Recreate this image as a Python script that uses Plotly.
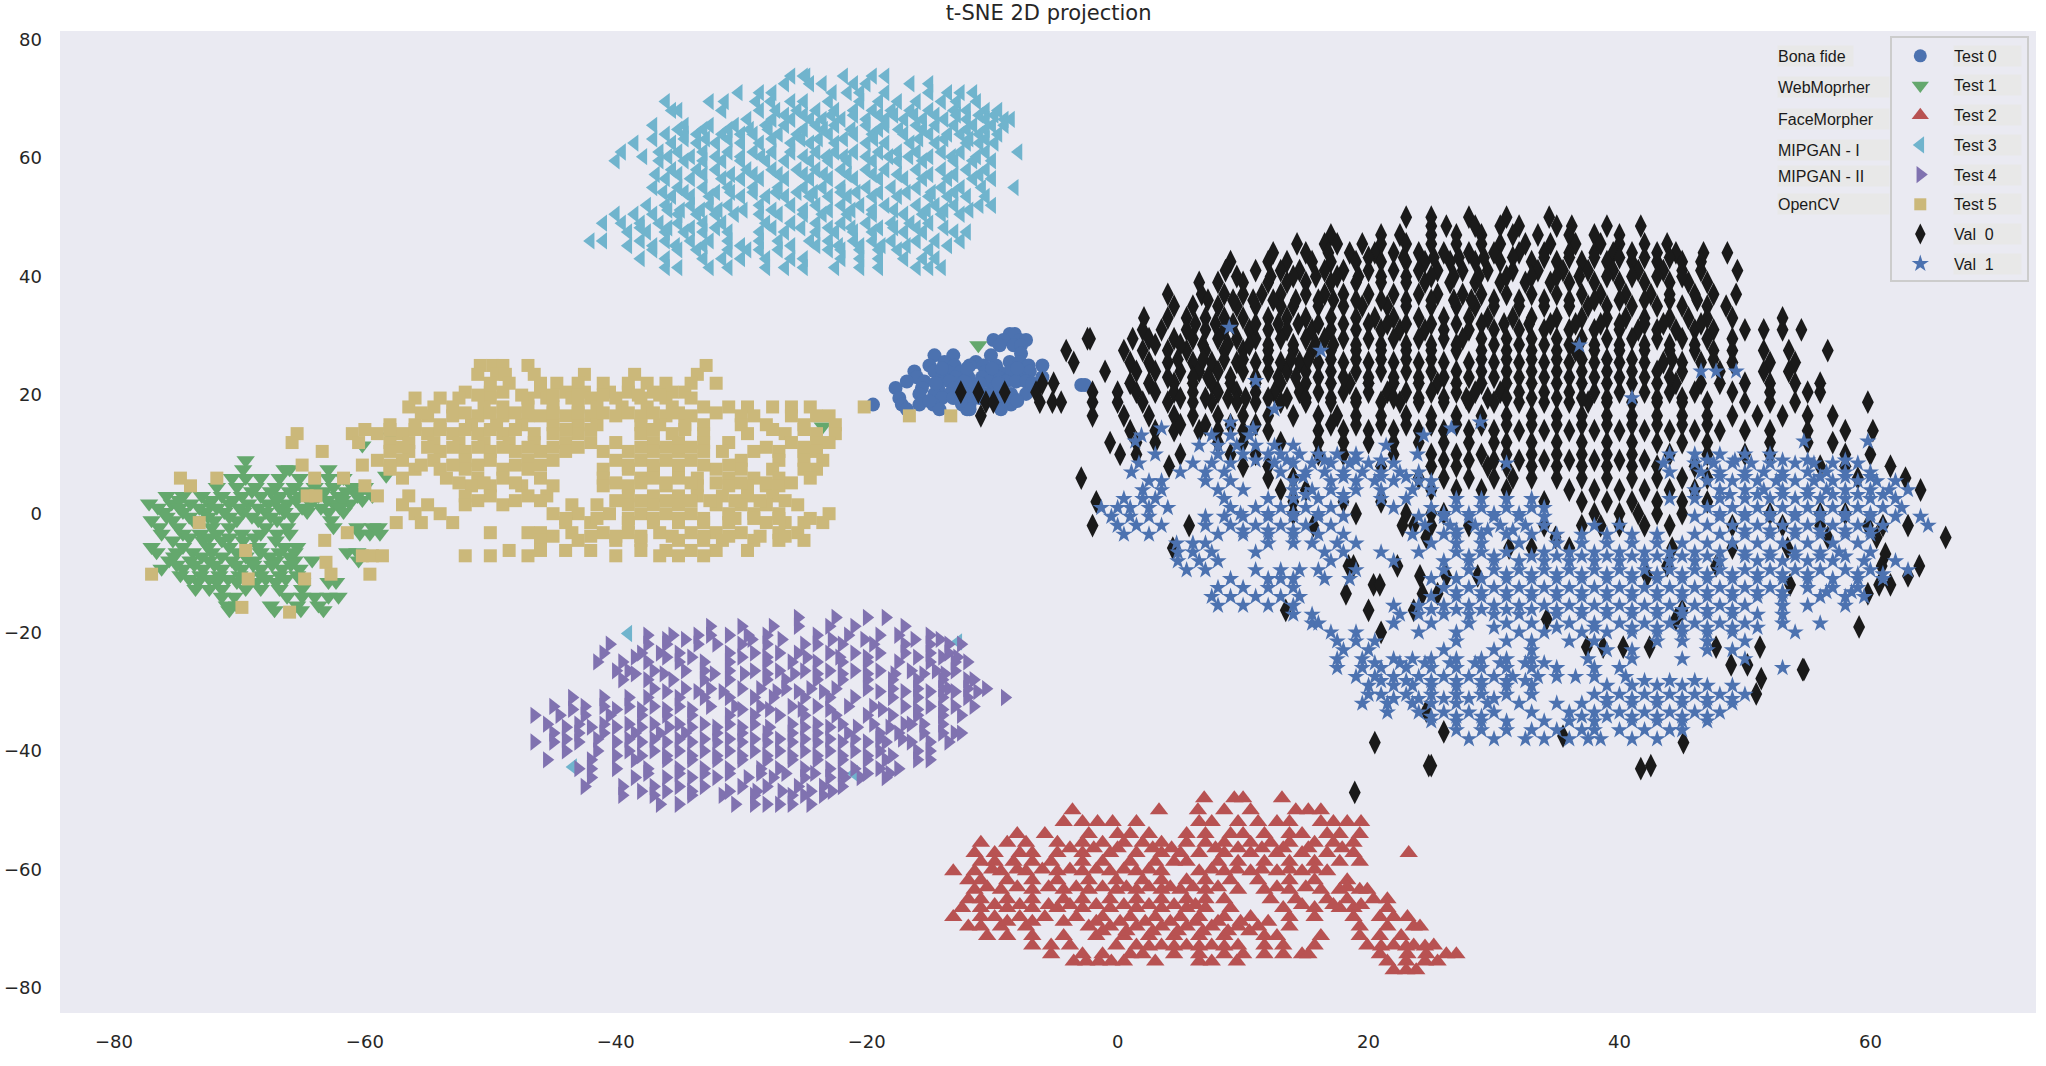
import plotly.graph_objects as go

# values, one row per y level: (y, [x, x, ...])
test0_rows = [
    (30.3, [-8.6, -8.2]), (29.3, [-9.9, -9.1, -7.8, -7.3]), (28.4, [-9.4, -8.3, -7.7]), (27, [-7.7]),
    (26.7, [-14.6, -13.1, -10.1]), (25.6, [-13.8, -8.6, -7.8, -11.3]), (25, [-15, -13, -11.8, -10.7, -9.7, -7.1, -6]),
    (24, [-16.2, -14.6, -13.6, -12.5, -10.5, -8.6, -7, -9.5]), (23, [-16, -14, -12.9, -11.9, -10.8, -9.5, -7.8, -6]),
    (22.3, [-16.8, -15.4, -13.4, -12.2, -10.2, -8.9, -8.1, -7.3]), (21.2, [-17.7, -15.6, -14.3, -13, -11.5, -9.8, -6.8]),
    (20.2, [-15.8, -14.6, -13.4, -11.9, -10.5, -8.5, -7.3]), (19.5, [-17.4, -14, -13.1, -11, -9.7, -8.3]),
    (18.4, [-19.5, -17.2, -15.8, -14.7, -12.4, -11.8, -9.3, -8.5]), (17.6, [-16.8, -14.2, -12, -11.8, -9.3]),
    (21.7, [-2.9, -2.6]),
    (24.5, [-14, -12, -10, -8]), (22, [-14.5, -11, -9.5, -6.8]), (19, [-15, -12.5, -10, -8]),
]
test1_rows = [
    (9, [-69.5]), (7.5, [-69.7, -66.4, -66, -62.9]), (6, [-70.6, -69.5, -68.3, -66.8, -65.2, -62.9, -61.7]),
    (4.5, [-71.8, -70.2, -68.7, -67.1, -65.6, -64, -62.5, -61, -60]),
    (3, [-75.8, -74.5, -73, -71.4, -69.8, -68.3, -66.8, -65.2, -63.7, -62.1, -60.6, -59.4]),
    (1.7, [-77.2, -75.4, -73.9, -72.4, -70.8, -69.3, -67.7, -66.2, -64.3, -62.5, -61.2]),
    (0.3, [-76, -74.5, -72.7, -71.2, -69.7, -67.9, -66.4, -64.6, -62.9, -61.7]),
    (-1.1, [-77, -75.3, -73.7, -72, -70.2, -68.5, -67, -62.7]),
    (-2.3, [-76.4, -74.9, -72.2, -70.8, -67.9, -66.2, -62.5, -60.6, -59.4, -58.9]),
    (-3.4, [-76.2, -74.5, -73.1, -71.8, -69.8, -68.3, -67, -66, -60.4, -59.6, -58.8]),
    (-4.5, [-75.3, -72.9, -71.4, -69.7, -67.1]), (-5.6, [-77, -74.5, -72.5, -70.8, -68.5, -66.4, -65.4]),
    (-6.5, [-76.6, -75, -73.7, -72.2, -70.2, -68.3, -66.8, -65.6, -61.4, -60.6]),
    (-7.9, [-75.6, -73.9, -72.4, -70.6, -68.9, -67.1, -65.6, -64.2, -60.5]),
    (-9.3, [-76.2, -74.5, -72.9, -71.4, -69.8, -68.3, -66.6, -65.2]),
    (-10.4, [-74.7, -73.1, -71.6, -70, -68.3, -66.8, -65.4]),
    (-11.5, [-73.3, -71.8, -70.2, -68.7, -67.1, -65, -62.9, -62.3]),
    (-12.7, [-73.5, -72.4, -71.4, -69.5, -68.3, -66.8, -65]),
    (-14, [-71.4, -70.4, -66.2, -65, -64, -62.9, -62.1]), (-15.5, [-71, -70.2, -67.5, -65.4, -63.7]),
    (-16.3, [-70.8, -67.2, -65.1, -63.3]),
    (11.5, [-60.2]), (13, [-57.9]), (6.4, [-58.3]), (14.7, [-23.5]), (28.4, [-11.1]),
    (3.8, [-69, -67.5, -66, -64.8, -63.2, -61.5, -60.4]), (2.3, [-74.8, -72.2, -70.5, -67, -65.5, -63, -61.8, -60.2]),
    (1, [-76.5, -74.8, -73.2, -71.8, -70, -68.5, -66.8, -65, -63.5, -62]),
    (-0.5, [-75.8, -74, -72.5, -70.8, -69, -67.5, -65.8]), (-4, [-74, -72.4, -70.8, -68.8]),
    (-7.2, [-75.2, -73, -71.4, -69.5, -67.6, -66]), (-8.6, [-75, -73.6, -72, -70.3, -68.9, -67.4, -65.9]),
    (-11, [-74, -72.4, -70.9, -69.4, -67.9, -66.3]),
]
test2_rows = [
    (-48, [6.9, 9.3, 10, 13.1]), (-50, [3.3, -3.6, 6.4, 8.5, 10.6, 14.2, 15.2, 16.2]),
    (-52, [-4.3, -2.8, -1.6, -0.4, 1.5, 6.5, 7.5, 9.6, 11.2, 12.7, 13.7, 16.2, 17.2, 18.3, 19.4]),
    (-54, [-8, -5.8, -2.3, 0, 1, 2.5, 5.5, 7, 9, 10, 11.7, 13.7, 14.7, 16.7, 17.7, 19.3]),
    (-55.5, [-10.9, -8.8, -7.3, -4.8, -2.8, -1.2, 0.5, 2, 3.5, 5.5, 7, 8.5, 10.6, 12.2, 13.7, 15.7, 17.2, 18.8]),
    (-57.2, [-11.4, -9.8, -7.8, -6.8, -4.8, -2.8, -0.6, 1.5, 3.5, 5, 6.5, 8.5, 10.6, 12.7, 14.7, 16.7, 18.8, 23.2]),
    (-58.7, [-10.9, -9.8, -8.3, -6.8, -5.3, -2.8, -1.2, 1, 3, 4.5, 5.5, 8, 9.6, 11.7, 13.7, 15.7, 17.7, 19.3]),
    (-60.3, [-13.1, -11.4, -9.3, -7.3, -4.8, -2.8, -0.6, 1.5, 3.5, 6.5, 8.5, 10.6, 12.7, 14.7, 16.7]),
    (-61.8, [-11.9, -10.9, -8.8, -6.8, -4.8, -2.3, -0.1, 2, 3.5, 5.5, 7, 9, 11.2, 13.7, 15.7, 18.3]),
    (-63.4, [-11.4, -9.3, -6.8, -4.3, -2.3, -0.1, 1.5, 3.5, 5, 7, 9.6, 11.7, 13.7, 16.2, 17.7, 19.3, 19.9]),
    (-65, [-11.9, -10.9, -8.8, -6.8, -4.3, -2.8, -0.6, 1.5, 3.5, 5.5, 7, 8.5, 12.2, 14.2, 16.7, 18.3, 20.4, 21.5]),
    (-66.5, [-12.4, -10.9, -8.8, -6.8, -4.8, -2.8, -0.6, 1.5, 3.5, 5.5, 7, 9, 13.2, 15.7, 17.7, 18.8, 21.5]),
    (-68, [-13.1, -10.9, -9.8, -7.8, -5.8, -3.3, -1.2, 1, 3, 5, 6.5, 8.5, 10.6, 13.7, 15.7, 18.8, 20.9, 22, 23.1]),
    (-69.6, [-11.9, -10.9, -9.3, -7.3, -2.3, -0.6, 1.5, 3.5, 5.5, 7.5, 9.6, 11.2, 13.7, 19.3, 21.5, 23.6, 24.1]),
    (-71.2, [-10.4, -8.8, -6.8, -4.3, -1.7, 0.5, 2.5, 4.5, 6.5, 8.5, 11.7, 12.7, 16.2, 19.3, 20.9, 22.6]),
    (-72.8, [-6.8, -5.3, -3.8, -0.1, 1.5, 3.5, 5.5, 7.5, 9.6, 11.7, 13.2, 15.7, 19.9, 22, 23.6, 25.2]),
    (-74.3, [-5.3, -2.8, -1.2, 1, 2, 4.5, 6.5, 8.5, 10, 11.7, 13.2, 14.7, 15.2, 20.9, 23.1, 24.6, 26.2, 27]),
    (-75.5, [-3.5, -2.5, -1.5, -0.5, 0.5, 3, 6.5, 7.5, 9.5, 21.5, 23, 24.5, 25.5]),
    (-77, [22, 23, 23.8]),
    (-56.4, [-3.8, -1.9, 0, 2.8, 4.3, 7.8, 9.6, 11.5, 13.2, 15.2, 17.9]),
    (-60, [-10, -8, -6, -3.8, -1.7, 0.5, 2.5, 7.5, 9.5, 11.5, 13.7, 15.7]),
    (-63, [-10.4, -8, -5.5, -3.3, -1.2, 0.7, 2.5, 4.2, 6, 8, 12.7, 15, 18.3]),
    (-66, [-9.8, -7.8, -5.5, -3.8, -1.7, 0.5, 2.5, 4.5, 6.2, 14.7, 17.2, 19.4]),
    (-68.8, [-8.8, -6.8, -4.3, -1.7, 0.2, 2.2, 4.2, 6.2, 8, 9.8, 12]),
    (-70.4, [-1.2, 0.7, 2.8, 4.8, 6.8, 8.8, 10.5]), (-73, [2.5, 4.5, 6.5, 8.5, 21, 23, 24.5]),
]
test3_rows = [
    (73.8, [-26, -25, -24.8, -21.8, -19.5, -18.5]), (72.5, [-26.5, -24.5, -23.5, -21, -20, -16.5, -15]),
    (71, [-30.2, -28.5, -27.5, -22.7, -21.5, -20.5, -18.5, -15, -13.5, -12.5, -11.5]),
    (69.5, [-36, -32.5, -31.3, -28.8, -27.6, -26, -25, -23, -20.5, -19, -17.5, -16, -14, -12.8, -11.2]),
    (68, [-35.5, -35, -31.5, -28.5, -27.2, -25.5, -24, -22.5, -21, -19.5, -18, -16.5, -15, -13, -12, -10.5, -9.5]),
    (66.5, [-29.5, -27.5, -26, -24.5, -23.5, -22, -20, -18.5, -17, -15.5, -13.8, -12, -10.5, -9, -8.5]),
    (65.5, [-37, -34.5, -32.5, -30.5, -28, -26.5, -24, -22.5, -20, -18.5, -16, -14.5, -13, -11.5, -10, -9]),
    (64, [-36, -34.5, -33.5, -31.5, -30, -29, -27, -25.5, -23, -21, -19.5, -17, -15, -13.5, -12.5, -11, -9.5]),
    (62.5, [-38.5, -35.5, -33.5, -32, -30, -28.5, -26, -24.5, -22.5, -20, -18.5, -16.5, -14.5, -12, -11, -9.8]),
    (61, [-39.5, -36.5, -35, -33, -31, -29, -27.5, -26, -24, -22.5, -21, -19, -17.5, -16, -14, -12.5, -10.5, -7.9]),
    (59.5, [-40, -36.5, -34.5, -33, -31.5, -30, -28, -26.5, -24.5, -23, -21.5, -19.5, -17.5, -15.5, -13, -11.5, -10]),
    (58, [-35.5, -33.5, -32, -29.5, -27.5, -25.5, -24, -22, -20, -18.5, -16, -14, -12, -10.5]),
    (56.5, [-36, -34, -31.5, -30, -28.5, -26.5, -24.5, -23, -21, -19, -17, -15.5, -13.5, -11.5, -10]),
    (55, [-37, -35, -33, -31, -29, -27, -25, -23.5, -22, -20, -18, -16, -14, -12.5, -10.8, -8.2]),
    (53.5, [-35.5, -34, -32.5, -30, -28, -26.5, -24.5, -23, -21.5, -19.5, -17.5, -15, -13.5, -12, -10.5]),
    (52, [-37.5, -36, -34, -32.5, -31, -28.5, -26, -24, -22, -20.5, -18.5, -16, -14.5, -13, -11, -10]),
    (50.5, [-40, -38.5, -37, -35, -33.5, -32, -30.5, -28.5, -27, -25, -23.5, -21.5, -19.5, -17, -15.5, -14, -12.5]),
    (49, [-41, -39.5, -38, -36.5, -35, -33, -31.5, -28, -26, -24, -22, -20, -18, -16.5, -15]),
    (47.5, [-39, -37.5, -36, -34.5, -33, -31, -28.5, -26.5, -24, -22.5, -21, -19.5, -17, -15.5, -13, -12]),
    (46, [-42, -41, -38, -36, -34, -32.5, -31, -28.5, -27, -24.5, -23, -21, -19.5, -18, -16, -14.5, -12.5]),
    (44.5, [-37, -35, -33.5, -31, -29.5, -28.5, -27, -23, -22, -20.5, -19, -17.5, -15]),
    (43, [-38, -36, -33, -31.5, -30, -28, -26, -25, -22, -20.5, -19, -17, -15.5, -14.5]),
    (41.5, [-36, -35, -32.5, -31, -28, -26.5, -25, -22.5, -20.5, -19, -16, -15, -14]),
    (67.2, [-26.5, -25, -22.8, -21, -19, -17.8, -16.2, -14.5, -12.8, -11, -9.8]),
    (64.8, [-35, -33, -31, -29.3, -27.8, -25, -23.4, -21.2, -19, -17.4, -15.5, -12, -10.5]),
    (63.2, [-37, -34.5, -32.8, -31, -27.5, -25.2, -23.8, -21.8, -19.4, -15.8, -13.8, -11.8, -10.5]),
    (60.2, [-37.8, -35.8, -34, -32, -30, -28.4, -25, -23.2, -21.8, -20, -18.2, -16.6, -15, -13.2, -11.2]),
    (57.2, [-36.8, -35, -33, -30.8, -29, -27, -25, -23.4, -21.5, -19.5, -17.5, -15, -13, -11]),
    (54.2, [-36.2, -34.5, -32, -30.8, -29, -27.2, -25.5, -24.2, -22, -20.8, -19, -16.8, -14.8, -13]),
    (51.2, [-35.8, -34.8, -33.2, -31.8, -29.8, -27.5, -25, -23, -21.2, -19.5, -17.8, -15.2, -13.8, -11.8]),
    (48.2, [-38, -35.8, -34, -32, -27.5, -25.2, -23, -21.2, -19, -17.8, -16, -13.8]),
    (45.2, [-39, -37, -35.2, -33, -30, -26, -24, -22.2, -20.5, -18.8, -16.8, -13.5]),
    (-20.2, [-39]), (-21.6, [-12.7]), (-42.7, [-43.4]), (-43.8, [-21]),
]
test4_rows = [
    (-17.5, [-25.5, -22.5, -20, -18.5]), (-19, [-32.5, -30, -27.5, -25.5, -23, -21, -17]),
    (-20.5, [-37.5, -35.5, -33.5, -32.5, -31, -29.5, -28, -24, -21.5, -19, -17.5, -15]),
    (-22, [-40.5, -37.5, -36, -33.5, -32, -30, -28, -25, -24, -22, -19.5, -17, -15, -13.5, -12.5]),
    (-23.5, [-41, -38, -36.5, -35, -31, -29, -27, -25.5, -23, -21, -19, -17, -15, -13.5]),
    (-25, [-41.5, -39.5, -37.5, -35, -33, -31, -28, -26, -24, -22, -20, -17.5, -15, -13, -12]),
    (-26.5, [-40, -39, -37, -34.5, -33, -31, -29, -27, -25, -23, -21, -19, -16.5, -14.5, -13]),
    (-28, [-39.5, -37.5, -35.5, -33, -31, -28, -26.5, -24, -22, -20, -18, -16, -14, -12, -11.5]),
    (-29.5, [-37, -34.5, -32.5, -30, -28.5, -26.5, -24.5, -22.5, -20, -18, -16, -14, -12, -10.5, -13.5]),
    (-31, [-43.5, -41, -39, -37.5, -35, -33, -31, -29, -27.5, -25, -23, -21, -18, -16, -14, -12, -9]),
    (-32.5, [-45, -42.5, -41, -39, -37, -35, -32.5, -30.5, -28.5, -26, -24, -21.5, -19.5, -17, -15, -13, -11.5]),
    (-34, [-46.5, -44.5, -42.5, -40.5, -38, -36, -34, -31, -29, -27, -25, -22.5, -20, -18, -16, -14, -12.5]),
    (-35.5, [-45.5, -43, -41, -39, -37, -35, -33, -31, -29, -26, -24, -22, -19.5, -17, -15.5, -14, -16.5]),
    (-37, [-45, -43, -41, -38.5, -36.5, -34.5, -32, -30, -28, -26, -24, -21.5, -19, -17.5, -15.5, -14, -13, -12.5]),
    (-38.5, [-46.5, -45, -43, -40, -38, -36, -34, -32, -30, -28, -26, -24, -22, -20, -18.5, -16.5, -15, -13.5]),
    (-40, [-44, -41.5, -39, -37, -35, -33, -31, -29, -27, -25, -23, -21, -19, -16, -15]),
    (-41.5, [-45.5, -42, -38.5, -36, -34, -32, -30, -28, -26, -24, -22, -20, -18.5, -16, -15]),
    (-43, [-43, -42, -40, -37.5, -35, -33, -31, -28.5, -27, -25, -23, -21, -19, -17.5]),
    (-44.5, [-42, -38.5, -36, -34, -32, -29.5, -27.5, -25, -23, -21.8, -20.5, -18.5]),
    (-46, [-42.5, -39.5, -37, -35, -33, -30, -28, -25.5, -23.5, -22]),
    (-47.5, [-39.5, -37, -34, -31.5, -29, -26, -25, -23.5]),
    (-49, [-36.5, -35, -30.5, -29, -28, -27, -26, -24.5]),
    (-21.2, [-36, -34.5, -29.2, -26.8, -22.8, -20.2, -16.2, -14.2]),
    (-24.2, [-38.5, -36, -34, -30, -28, -24.8, -22.2, -20, -16, -14, -12.8]),
    (-27, [-38.5, -36.2, -32.2, -29.8, -28, -25.8, -24, -22, -20, -17.8, -15.5, -13.8]),
    (-30, [-36, -33.5, -31.5, -27.2, -25.5, -23.5, -19, -17, -15, -13, -11.2]),
    (-33, [-43.5, -40, -38, -36, -34, -30, -27.8, -25.2, -23, -18.8, -16, -14]),
    (-36, [-44, -42, -40, -38, -35.8, -34, -32, -30, -27.8, -25, -23, -20.8, -18.2]),
    (-38, [-44, -41.5, -39, -37, -35, -33, -31, -29, -27, -25, -23, -21, -19, -17.2]),
    (-40.8, [-40, -38, -36, -34, -32, -30, -28, -26, -24, -22, -20, -18]),
    (-43.8, [-37.5, -35, -33, -31, -28.5, -26.5, -24.2, -22, -20, -18.2]),
    (-46.8, [-38, -36, -34, -31, -28.8, -26.8, -24.5, -22.8]),
]
test5_rows = [
    (25, [-50.8, -49.8, -49, -47, -32.8]), (23.5, [-51, -49.5, -48.8, -46.5, -42.5, -38.5, -33.5]),
    (22, [-50, -48.5, -46, -44.7, -43, -41, -39, -37.5, -36, -34, -32]),
    (20.5, [-52, -50, -49, -46, -44, -42.5, -40.5, -39, -37, -35.5, -34.5]),
    (19.5, [-56, -54, -52.5, -50, -47, -45.5, -43.5, -42, -40, -38, -36, -34]),
    (18, [-56.5, -54.5, -53, -50.5, -49, -47, -45, -43, -41.5, -39.5, -37.5, -35.5, -33, -31, -29.5, -27.5, -26, -24.5, -20.2]),
    (16.5, [-55, -53, -51, -49, -47, -46, -44, -42, -40, -38, -36, -34, -30, -29, -26, -24, -23, -16.6, -13.3]),
    (15, [-58, -56, -54, -51.5, -49.5, -47.5, -45, -43, -41.5, -38, -36.5, -34.5, -33, -30, -28, -25, -22.5]),
    (13.5, [-61, -59, -57, -55, -53, -51, -49, -46.5, -45, -43, -38, -35.5, -33, -29.5, -26.5, -24, -22.5, -65.4]),
    (12, [-60.5, -58, -56.5, -54.5, -52.5, -50.5, -48.5, -46.5, -44, -42, -40, -37, -35, -33, -31, -26, -24, -23, -65.8]),
    (10.5, [-58, -56.5, -54, -52, -50, -48, -46, -44, -41, -39, -37, -35, -33, -31.5, -29, -27, -25, -24, -63.4]),
    (9, [-59, -57, -54.5, -52, -50, -47, -45, -40, -38, -36, -34, -30, -27, -25, -23.5]),
    (8.2, [-65, -60.2]), (7.5, [-58, -56, -54, -52, -49, -47, -41, -39, -37, -35, -32, -30, -27.5, -25, -24]),
    (6, [-74.7, -71.8, -64, -61.7, -57, -53.5, -51, -49, -46, -41, -38, -37, -35, -33.5, -31, -29, -27, -24.5]),
    (4.7, [-73.9, -60, -51.5, -50, -47.5, -45, -41, -39, -36, -33.5, -31, -29.5, -28, -27]),
    (3, [-64.6, -63.9, -59, -56.5, -52, -50, -47, -45.5, -39, -37, -35, -33.5, -31.5, -29.5, -27.5]),
    (1.5, [-57, -55, -52, -49, -43.5, -41.5, -39, -37, -35, -32, -30, -28, -25.5]),
    (0, [-56, -54, -45, -43, -40.5, -38, -36, -34, -31, -29, -27, -23]),
    (-1.5, [-73.2, -57.5, -55.5, -53, -44, -42, -39, -37, -35, -33, -31, -28, -26.5, -25, -23.5]),
    (-3.2, [-61.4, -50, -47, -46, -43.5, -41, -39, -36.5, -34, -32, -30, -27, -25.5]),
    (-4.5, [-63.2, -46, -43, -40, -38, -35, -33, -31.5, -29, -27, -25]),
    (-6.2, [-69.5, -48.5, -46, -44, -42, -38, -36, -34, -32, -29.5]),
    (-7.1, [-60.2, -59.4, -58.6, -52, -50, -47, -40, -36.5, -35, -33]),
    (-8.2, [-63.1]), (-10.2, [-77, -62.7, -59.6]), (-11, [-69.3, -64.8]), (-15.8, [-69.8]), (-16.6, [-66]),
    (20, [-51, -47.5, -45, -43, -41, -38.2, -36.5]), (17, [-55.5, -52, -50, -48, -45, -43, -41, -39, -37, -35, -32]),
    (14.2, [-60, -58, -56, -54, -52, -50, -48, -44, -42, -37, -34.5, -27.5, -25]),
    (11.2, [-57, -55, -53, -51, -49, -47, -45, -43, -38, -36, -34, -28, -25]),
    (8.2, [-58, -55.5, -53, -51, -48, -46, -39, -37, -35, -33, -31]),
    (5.2, [-52.5, -50.5, -48, -40, -38, -36, -34, -32, -30, -28, -26]),
    (2.2, [-51, -48, -46, -40, -38, -36, -34, -32.5, -30.5, -28.5, -26.5]),
    (-0.8, [-44, -41.5, -39, -37, -35, -33, -30.5, -29, -27, -24.5]),
    (-3.8, [-45, -42, -40, -38, -35.5, -33, -31, -28.5, -26.5]),
]
val0_rows = [
    (50, [23, 25, 28, 31, 34.4]), (48.5, [25, 26.2, 28.5, 30.5, 32, 35, 36.2, 39, 41.7]),
    (47, [17, 21, 22.5, 25, 27, 29, 31.5, 33.5, 36, 38, 40]),
    (45.5, [14.3, 16.5, 17.5, 19.5, 21, 23, 25, 27, 29, 30.5, 32.5, 34.5, 36.5, 38.5, 40, 42, 43.8]),
    (44, [12.4, 15, 16.8, 18.5, 20.5, 22, 24, 26, 28, 30, 32, 34, 36, 38, 39.5, 41, 43, 44.5, 46.7, 48.6]),
    (42.5, [9, 12, 13.5, 15.5, 17, 19, 21, 23, 24.5, 26.5, 28.5, 30.5, 33, 35, 37, 39, 41, 43, 45, 46.5]),
    (41, [8.6, 11, 13, 14.5, 16.5, 18, 20, 22, 24, 25.5, 27.5, 29.5, 31.5, 33.5, 35.5, 37.5, 39.5, 41.5, 43.5, 45, 46.5, 49.4]),
    (39, [6.5, 8, 10, 12, 13.5, 15, 17, 19, 21, 23, 24.5, 26.5, 28.5, 30.5, 32.5, 34.5, 36, 38, 40, 42, 44, 45.5, 47]),
    (37, [4, 6.7, 8.5, 10, 11.5, 13, 15, 16.5, 18, 20, 22, 24, 25.5, 27.5, 29, 31, 33, 35, 37, 38.5, 40.5, 42.5, 44, 46, 47.5, 49.3]),
    (35, [4.5, 6, 8, 9.5, 11, 13, 14, 16, 18, 19.5, 21.5, 23, 25, 27, 28.5, 30, 32, 34, 36, 37.5, 39, 41, 43, 45, 47, 48.5]),
    (33, [2.1, 4, 5.5, 7, 8.5, 10, 12, 13.5, 15, 17, 19, 20.5, 22, 24, 26, 28, 29.5, 31.5, 33, 35, 37, 39, 40.5, 42, 44, 45.5, 47, 49, 53]),
    (31, [2, 3.5, 5.5, 7, 8.5, 10.5, 12, 13.5, 15.5, 17, 19, 21, 22.5, 24.5, 26, 28, 30, 32, 34, 36, 38, 40, 41.5, 43, 44.5, 46, 47.5, 50, 51.5, 53, 54.5]),
    (29.5, [-2.4, 1.2, 2.5, 4.5, 6, 8, 9.5, 11, 13, 15, 16.5, 18, 20, 22, 24, 26, 27.5, 29, 31, 33, 35, 37, 39, 41, 43, 45, 47, 49, -2.2]),
    (27.5, [-4.1, 0.5, 2, 4, 5.5, 7, 8.5, 10, 12, 14, 15.5, 17, 19, 21, 23, 25, 27, 29, 31, 33, 35, 36.5, 38, 40, 42, 44, 46, 47.5, 49, 51.5, 53.5, 56.6]),
    (25.5, [-3.5, 1, 2.5, 4, 6, 7.5, 9.5, 11, 13, 14.5, 16, 18, 20, 22, 24, 26, 28, 30, 32, 34, 36, 38, 40, 42, 43.5, 45, 46.5, 49, 52, 54]),
    (24, [-1, 1.5, 3, 5, 6.5, 8, 10, 12, 13.5, 15, 17, 19, 21, 23, 25, 27, 29, 31, 33, 35, 37, 39, 41, 43, 45, 48, 51.5, 53.5]),
    (22, [-6, -5.1, 1, 2.5, 4.5, 6, 7.5, 9, 11, 13, 15, 17, 18.5, 20, 22, 24, 25.5, 27, 29, 31, 33, 35, 37, 39, 41, 43, 44.5, 46.5, 48, 50, 52, 54, 56]),
    (20.5, [-12.5, -11.1, -9, -6.5, -2, 0, 1.5, 3, 4.5, 6, 8, 9.5, 11, 12.5, 14.5, 16, 18, 20, 21.5, 23, 25, 27, 28.5, 30.5, 32, 34, 36, 38, 40, 42, 44, 46, 49, 52, 55, 56]),
    (18.8, [-10.5, -9.9, -6.2, -5.2, -4.5, -2, 0, 2, 4, 6, 7.5, 9.5, 11, 13, 15, 17, 19, 21, 22.5, 24, 26, 28, 30, 32, 34, 36, 37.5, 39, 41, 43, 45, 47, 50, 52, 54, 59.8]),
    (16.5, [-10.9, -2, 0.5, 2.5, 4.5, 6, 8, 10, 12, 14, 16, 17.5, 19, 21, 23, 25, 27, 29, 31, 33, 35, 37, 39, 41, 43, 45, 47, 49, 51, 53, 55, 57]),
    (14, [1, 3, 4.5, 6.5, 8, 10, 12, 16, 18, 20, 22, 24, 26, 28, 30, 32, 34, 36, 38, 40, 42, 44, 46, 48, 50, 52, 55, 58, 60.2]),
    (12, [-0.6, 1.5, 3, 8, 10, 13, 16, 18, 20, 22, 24, 26, 28, 30, 31, 33, 35, 37, 39, 41, 43, 45, 47, 52, 55, 57]),
    (10, [0.2, 1.5, 5, 9, 11, 16, 18, 22, 25, 27, 29, 31, 33, 35, 37, 39, 41, 44, 47, 50, 52, 58, 60]),
    (8, [4.1, 10, 12, 21, 25, 27, 29.5, 31, 33, 35, 37, 39, 41, 43, 46, 56, 58, 61.6]),
    (6, [-2.9, 12, 14, 24, 26, 28, 30, 31.5, 33, 35, 37, 39, 41, 43, 45, 47, 59, 62.8]),
    (4, [13, 15, 25, 27, 29, 31, 36, 38, 40, 42, 44, 46, 64]),
    (2, [-1.7, 14, 18, 21, 34, 37, 39, 41, 43, 45, 47]),
    (0, [14, 19, 23, 25, 26, 38, 40, 41.5, 43, 45, 52, 56, 58]),
    (-2, [-2, 5.7, 15.6, 22.7, 23.6, 25, 28, 34, 37, 38.5, 40, 42, 44, 49, 53, 56, 59.8, 61, 63]),
    (-4, [24.6, 34.9, 56.6, 60.5, 66]), (-5.8, [4.4, 31.2, 33, 36, 44.2, 49, 53.4]), (-6.8, [61.2]),
    (-8.8, [18.4, 18.8, 22.3, 43.8, 47.7, 60.9, 63.9]), (-10.5, [24.1, 26.2, 28.7, 42.2, 63]),
    (-12, [20.4, 20.9, 53.6, 60.7, 61.6]), (-13.5, [18.2, 24.3, 25.5, 59.8]), (-16.3, [13.4, 20, 23.6, 45]),
    (-17.8, [34.2, 44.5]), (-19.1, [59.1]), (-20, [21]), (-22.5, [37.4, 38.7, 40.3, 42.4, 47.7, 51.2]),
    (-25.5, [48.9, 50.2]), (-26.3, [54.6, 54.7]), (-27.8, [51.3]), (-30.4, [50.9]), (-33.3, [24.6]),
    (-36.8, [26]), (-37.5, [35.5]), (-38.6, [20.5, 45.1]), (-42.5, [25, 24.8, 42.5]), (-43, [41.7]),
    (-47, [18.9]),
    (43.2, [20, 22.8, 25.2, 27.2, 29.2, 31.5, 34, 36, 38, 40, 42, 44]),
    (40, [9.5, 12.2, 14, 15.8, 17.5, 19.2, 21, 23, 25, 26.8, 28.8, 31, 33, 35, 36.8, 39, 41, 43, 45]),
    (36, [7.2, 9.2, 10.8, 12.4, 14.2, 16, 17.2, 19, 21, 23, 25, 26.8, 28.2, 30, 32, 34, 36, 38, 40, 42, 44, 46.2]),
    (32, [6.2, 7.8, 9.2, 11, 12.8, 14.4, 16, 18, 20, 21.5, 23, 25, 27, 29, 30.8, 32.8, 34.5, 36.5, 38.5, 40, 42, 43.5, 46.5]),
    (28.5, [3, 5, 6.8, 8.8, 10.5, 12, 14, 15.8, 17.2, 19, 21, 23, 25, 27, 30, 32, 34, 36, 38, 40, 42, 44, 46]),
    (26, [4.8, 6.8, 8.5, 10, 12, 13.8, 15.2, 17, 19, 21, 23, 25, 29, 31, 33, 35, 37, 39, 41, 44.2, 47.5]),
    (23, [4, 6, 7.2, 9, 11, 12.8, 14.2, 16, 18, 20, 22, 24, 26, 28, 30, 32, 34, 36, 38, 40, 42, 44]),
    (19.5, [5, 7, 8.8, 10.2, 12, 13.5, 15, 17, 19, 22, 24, 26, 27.8, 29.5, 31, 33, 35, 37, 39, 43, 45]),
    (15, [5, 7, 9, 11, 17, 19, 21, 23, 25, 27, 29, 31, 33, 35, 37, 39, 41, 43, 45, 47]),
    (9, [26, 28, 30, 32, 34, 36, 38, 40, 42]),
]
val1_rows = [
    (31.4, [8.9]), (28.4, [36.8]), (27.5, [16.2]), (24, [46.5, 47.7, 49.3]), (22.4, [11]), (19.5, [41]),
    (17.6, [12.5]), (15.4, [9, 28.9]), (14.4, [3.5, 10.8, 26.6]), (13.2, [1.9, 7.5, 9, 10.5, 24.4]),
    (12.2, [1.4, 54.7, 59.8]), (11.5, [6.5, 8, 9.5, 11, 12.5, 14, 21.4]),
    (10, [3, 8, 10, 12, 13, 14.5, 16, 17.5, 19, 23.9, 44, 46, 48, 50, 52]),
    (8.5, [1.7, 6, 7.5, 9, 12.5, 14, 15.5, 17, 18.5, 20, 22, 31, 43.5, 46, 47.5, 49, 50.5, 52, 54, 55.5, 57, 59]),
    (7, [1.1, 5, 7, 8.5, 13, 15, 16.5, 18, 19.5, 21, 22.5, 24, 44, 46.5, 48, 50, 51.5, 53, 55, 56.5, 58, 60]),
    (5.5, [2.5, 3.5, 7, 9, 14, 17, 19, 20.5, 22, 24, 25, 47, 49, 51, 52.5, 54, 55.5, 57, 59, 60.5, 62]),
    (4, [2, 3.5, 8, 10, 14, 15.5, 17, 19, 21, 23.5, 25, 46, 48, 50, 51.5, 53, 55, 56.5, 58, 60, 61.5, 63]),
    (2.5, [0.5, 2, 3, 8.5, 12, 14, 16, 18, 21, 23, 27, 29, 31, 33, 44, 46, 48, 50, 52, 54, 56, 58, 60, 62]),
    (1, [-1.3, 0, 1, 2.5, 4, 9, 11, 13, 15, 17, 22, 25, 27, 29, 31, 33, 34, 47, 49, 51, 53, 55, 57, 59, 61, 62.5]),
    (-0.5, [-0.5, 1, 2.5, 7, 8.5, 10, 12, 14, 16, 18, 24, 26, 28, 30, 32, 34, 46, 48, 50, 52, 54, 56, 58, 60, 62, 64]),
    (-2, [0, 1.5, 3.5, 7, 9, 11, 13, 15, 17, 24.5, 26.5, 28.5, 30.5, 32.5, 34, 38, 40, 47, 49, 51, 53, 55, 57, 59, 61, 64.6]),
    (-3.5, [0.5, 2.5, 8, 10, 12, 14, 16, 18, 23.5, 26, 27, 29, 31, 33, 35, 37, 39, 41, 43, 46, 48, 50, 52, 54, 56, 58, 60]),
    (-5, [4.7, 6, 7, 12, 14, 15.5, 17.5, 19, 25, 27, 29, 32, 35, 37, 39, 41, 43, 45, 47, 49, 51, 53, 55, 57, 59]),
    (-6.5, [4.8, 6, 7.5, 11, 16.5, 18, 21, 24, 27, 29, 31, 34, 36, 38, 40, 42, 44, 46, 48, 50, 52, 54, 56, 57.5, 60]),
    (-8, [4.8, 6.5, 8, 17, 22, 26, 28, 30, 32, 34, 36, 38, 40, 42, 44, 46, 48, 51, 53, 55, 57, 59.5, 62]),
    (-9.5, [5.5, 7, 11, 13, 14.5, 16, 19, 26, 28, 30, 32, 34, 36, 38, 40, 42, 44, 46, 48, 50, 52, 54, 56, 58, 60, 63]),
    (-11, [9, 12, 13, 14, 16.5, 18.5, 25, 27, 29, 31, 33, 35, 37, 39, 41, 43, 45, 47, 49, 51, 53, 55, 57, 59, 61]),
    (-12.5, [8, 10, 12, 14, 26, 28, 30, 32, 34, 36, 38, 40, 42, 44, 46, 48, 50, 52, 55, 57, 59]),
    (-14, [7.5, 9, 11, 13, 14.5, 25, 27, 29, 31, 33, 35, 37, 39, 41, 43, 45, 47, 49, 51, 53, 56, 58, 59.5]),
    (-15.5, [8, 10, 12, 14, 22, 24, 26, 28, 30, 32, 34, 36, 38, 40, 42, 44, 46, 48, 50, 53, 55, 58]),
    (-17, [14, 15.5, 22.5, 24, 26, 28, 30, 32, 35, 37, 39, 41, 43, 45, 47, 49, 51, 53]),
    (-18.5, [15.5, 16, 22, 25, 28, 31, 33, 36, 38, 40, 42, 44, 46, 48, 50, 53, 56]),
    (-20, [17, 19, 24, 27, 32, 34, 37, 39, 41, 43, 45, 47, 49, 54]),
    (-21.5, [17.5, 19, 20.5, 27, 31, 33, 36, 38, 43, 45, 47, 50]),
    (-23, [18, 20, 26, 30, 33, 39, 41, 47, 49]),
    (-24.5, [17.5, 19.5, 22, 23.5, 25, 27, 29, 31, 33, 37.5, 41, 45, 50]),
    (-26, [17.5, 19.5, 21, 23, 25, 27, 29, 31, 33, 35, 38, 40, 53]),
    (-27.5, [19, 20.5, 22, 24, 26, 28, 30, 31.5, 33.5, 35, 36.5, 38, 40.5]),
    (-29, [20, 22, 23.5, 25, 27, 29, 31, 33, 39, 41, 43, 45, 47, 49]),
    (-30.5, [20, 21, 23, 25, 27, 29, 31, 33, 38, 40, 42, 44, 46, 48, 50]),
    (-32, [19.5, 21.5, 23.5, 25, 27, 29.5, 32, 35, 37, 39, 41, 43, 45, 47, 49]),
    (-33.5, [21.5, 24, 26, 28, 30, 33, 36, 38, 40, 42, 44, 46, 48]),
    (-35, [25, 27, 29, 31, 34, 36, 38, 41, 43, 45, 47]),
    (-36.5, [27, 29, 31, 33, 35, 37, 38, 40, 42, 44, 45]),
    (-38, [28, 30, 32.5, 34, 36, 37.5, 38.5, 41, 43]),
    (9, [11, 13.5, 16.5, 19, 21, 47, 49.2, 53, 55, 58]), (6.2, [14.8, 18, 21, 23, 48, 50, 53, 56, 58, 60]),
    (3.2, [15, 18, 48.8, 51, 53, 55, 57, 59, 61]), (0, [9.8, 12, 14, 16, 26, 28, 30, 32, 48, 50, 52, 54, 56, 58, 60]),
    (-2.8, [10, 12, 14, 27, 29.5, 31.5, 50, 52, 54, 56, 58, 60]),
    (-7.2, [28, 30, 33, 35, 37, 39, 41, 43, 45, 47, 50, 52, 54, 56, 58]),
    (-10.2, [31, 33, 35, 37, 39, 41, 43, 45, 47, 49, 51, 53, 55, 59, 61]),
    (-13.2, [27, 29, 31, 33, 35, 37, 39, 41, 43, 45, 47, 49, 51, 53, 56.5, 58.5]),
    (-16.2, [25, 27, 29, 31, 33, 35, 37, 39, 41, 43, 45, 47, 49]),
    (-19.2, [30, 35, 38, 41, 43, 45, 47, 49, 51]),
    (-25.2, [20.5, 22.5, 24.5, 26.5, 28.5, 30.5, 32.5, 34]),
    (-28.2, [21, 23, 25, 27, 29, 31, 32.5, 42, 44, 46]),
    (-31.2, [22, 24, 26, 28, 30, 39, 41, 43, 45, 47, 49]),
    (-34.2, [25, 27, 29, 37, 39, 41, 43, 45, 47]),
]

series_names = ["Test 0", "Test 1", "Test 2", "Test 3", "Test 4", "Test 5", "Val  0", "Val  1"]
series_rows = [test0_rows, test1_rows, test2_rows, test3_rows, test4_rows, test5_rows, val0_rows, val1_rows]
method_names = ["Bona fide", "WebMoprher", "FaceMorpher", "MIPGAN - I", "MIPGAN - II", "OpenCV"]
x_ticks = [-80, -60, -40, -20, 0, 20, 40, 60]
y_ticks = [-80, -60, -40, -20, 0, 20, 40, 60, 80]

symbols = ["circle", "triangle-down", "triangle-up", "triangle-left", "triangle-right", "square", "diamond-tall", "star"]
colors = ["#4c72b0", "#64a86d", "#b85252", "#70b4cd", "#8072b0", "#cbb87a", "#1a1a1a", "#4c72b0"]
sizes = [14, 16, 16, 15, 15, 13, 17, 13]
FONT = "DejaVu Sans"
TEXT = "#262626"

fig = go.Figure()
for name, rows, sym, col, size in zip(series_names, series_rows, symbols, colors, sizes):
    xs = [x for y, row in rows for x in row]
    ys = [y for y, row in rows for x in row]
    fig.add_trace(go.Scatter(x=xs, y=ys, mode="markers", name=name, showlegend=False,
                             marker=dict(symbol=sym, color=col, size=size, line_width=0)))

# the hand-made legend box: its own small subplot, keys placed on a category axis
for name, sym, col, size in zip(series_names, symbols, colors, [13, 15, 15, 15, 15, 12, 15, 13]):
    fig.add_trace(go.Scatter(x=[0.21], y=[name], xaxis="x2", yaxis="y2", mode="markers", showlegend=False,
                             marker=dict(symbol=sym, color=col, size=size, line_width=0)))

annotations = []
for name in series_names:
    annotations.append(dict(x=0.45, y=name, xref="x2", yref="y2", text=name, showarrow=False, xanchor="left",
                            align="left", width=67, height=20, bgcolor="#e8e8e8", borderpad=0,
                            font=dict(family="Liberation Sans", size=16, color="#1a1a1a")))
# pixel rows of the method names, turned into paper fractions of the plot area
method_y_px = [56, 87, 119, 150, 176, 204]
method_w_px = [75, 111, 111, 111, 111, 111]
for name, py, w in zip(method_names, method_y_px, method_w_px):
    annotations.append(dict(x=(1777 - 60) / 1976, y=(1013 - py) / 982, xref="paper", yref="paper", text=name,
                            showarrow=False, xanchor="left", yanchor="middle", align="left", width=w, height=20,
                            bgcolor="#e8e8e8", borderpad=0, font=dict(family="Liberation Sans", size=16, color="#1a1a1a")))

fig.update_layout(
    width=2046, height=1066, margin=dict(l=60, r=10, t=31, b=53, autoexpand=False),
    paper_bgcolor="white", plot_bgcolor="#eaeaf2", font=dict(family=FONT, size=18, color=TEXT),
    title=dict(text="t-SNE 2D projection", x=0.5125, xanchor="center", y=0.988, yanchor="middle",
               font=dict(family=FONT, size=21, color=TEXT)),
    xaxis=dict(range=[-84.3, 73.2], tickvals=x_ticks, showgrid=False, zeroline=False, showline=False, ticks="",
               tickfont=dict(size=18), ticklabelstandoff=16),
    yaxis=dict(range=[-84.2, 81.4], tickvals=y_ticks, showgrid=False, zeroline=False, showline=False, ticks="",
               tickfont=dict(size=18), ticklabelstandoff=17),
    xaxis2=dict(domain=[0.9271, 0.9954], anchor="y2", range=[0, 1], showticklabels=False, showgrid=False,
                zeroline=False, ticks="", showline=True, mirror=True, linecolor="#cccccc", linewidth=1.5),
    yaxis2=dict(domain=[0.7464, 0.9929], anchor="x2", type="category", categoryorder="array",
                categoryarray=series_names, range=[7.55, -0.6], showticklabels=False, showgrid=False,
                zeroline=False, ticks="", showline=True, mirror=True, linecolor="#cccccc", linewidth=1.5),
    annotations=annotations,
)

# the page's default body margin would push the whole figure off by 8px
fig.write_html("out.html", config=dict(displayModeBar=False), post_script="document.body.style.margin = '0';")
